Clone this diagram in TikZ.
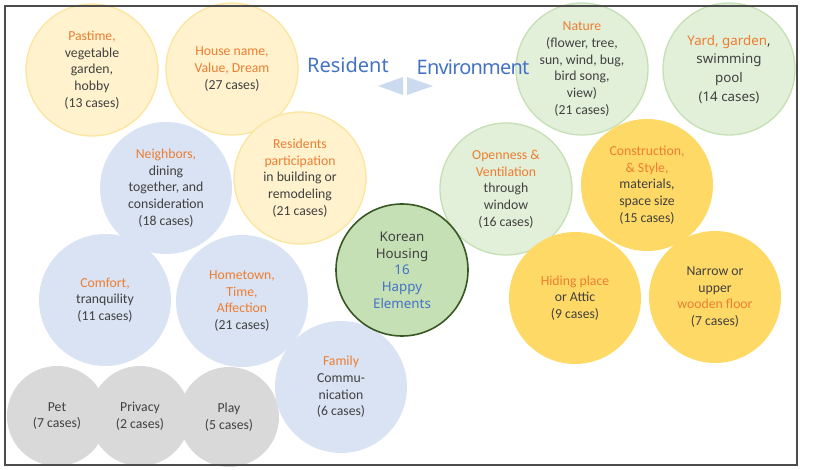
\documentclass[tikz,border=0pt]{standalone}
\usepackage{fontspec}
\setmainfont{Carlito}
\newfontfamily\notosans{Noto Sans}
\definecolor{accent}{HTML}{ED7D31}
\definecolor{ink}{HTML}{404040}
\definecolor{titleblue}{HTML}{4472C4}
\definecolor{paleyel}{HTML}{FFF2CC}
\definecolor{yelline}{HTML}{FBE5A0}
\definecolor{paleblue}{HTML}{DAE3F3}
\definecolor{palegray}{HTML}{D9D9D9}
\definecolor{palegreen}{HTML}{E2F0D9}
\definecolor{greenline}{HTML}{C5E0B4}
\definecolor{gold}{HTML}{FFD966}
\definecolor{hubgreen}{HTML}{C5E0B4}
\definecolor{hubline}{HTML}{385723}
\definecolor{arrowblue}{HTML}{CCDAF0}
\newcommand\hl[1]{\textcolor{accent}{#1}}
\begin{document}
\begin{tikzpicture}[x=0.75pt,y=-0.75pt,
  bubble/.style={circle,minimum size=99pt,inner sep=0pt,align=center,text=ink,
    font=\fontsize{10.3}{12.5}\selectfont},
  yelbub/.style={bubble,fill=paleyel,draw=yelline,line width=1pt},
  bluebub/.style={bubble,fill=paleblue},
  graybub/.style={bubble,fill=palegray,minimum size=75pt},
  greenbub/.style={bubble,fill=palegreen,draw=greenline,line width=1pt},
  goldbub/.style={bubble,fill=gold},
  hub/.style={bubble,fill=hubgreen,draw=hubline,line width=1.2pt,
    font=\notosans\fontsize{10}{12.5}\selectfont},
  heading/.style={text=titleblue,font=\notosans\fontsize{15}{18}\selectfont,inner sep=0pt}]
\useasboundingbox (0,0) rectangle (813,470);
% resident side
\node[yelbub] (pastime) at (92,70) {\hl{Pastime,}\\vegetable\\garden,\\hobby\\(13 cases)};
\node[yelbub] (housename) at (232,69) {\hl{House name,}\\\hl{Value, Dream}\\(27 cases)};
\node[bluebub] (neighbors) at (166,188) {\hl{Neighbors,}\\dining\\together, and\\consideration\\(18 cases)};
\node[yelbub] (participation) at (300,178) {\hl{Residents}\\\hl{participation}\\in building or\\remodeling\\(21 cases)};
\node[bluebub] (comfort) at (105,300) {\hl{Comfort,}\\tranquility\\(11 cases)};
\node[bluebub] (hometown) at (242,301) {\hl{Hometown,}\\\hl{Time,}\\\hl{Affection}\\(21 cases)};
\node[bluebub] (family) at (341,387) {\hl{Family}\\Commu-\\nication\\(6 cases)};
\node[graybub] (pet) at (57,416) {Pet\\(7 cases)};
\node[graybub] (privacy) at (140,416) {Privacy\\(2 cases)};
\node[graybub] (play) at (229,417) {Play\\(5 cases)};
% environment side
\node[greenbub] (nature) at (582,69) {\hl{Nature}\\(flower, tree,\\sun, wind, bug,\\bird song,\\view)\\(21 cases)};
\node[greenbub,font=\notosans\fontsize{10}{14}\selectfont] (yard) at (729,69) {\hl{Yard, garden},\\swimming\\pool\\(14 cases)};
\node[greenbub] (openness) at (506,189) {\hl{Openness \&}\\\hl{Ventilation}\\through\\window\\(16 cases)};
\node[goldbub] (construction) at (647,185) {\hl{Construction,}\\\hl{\& Style,}\\materials,\\space size\\(15 cases)};
\node[goldbub] (hiding) at (575,298) {\hl{Hiding place}\\or Attic\\(9 cases)};
\node[goldbub] (narrow) at (715,297) {Narrow or\\upper\\\hl{wooden floor}\\(7 cases)};
% centre
\node[hub] (korean) at (402,270) {Korean\\Housing\\\textcolor{titleblue}{16}\\\textcolor{titleblue}{Happy}\\\textcolor{titleblue}{Elements}};
% headings and double arrow
\node[heading] (resident) at (348,65) {Resident};
\node[heading] (environment) at (473,67) {\addfontfeature{LetterSpace=-4}Environment};
\fill[arrowblue] (378,86) -- (403,77) -- (403,95) -- cycle;
\fill[arrowblue] (433,86) -- (407,77) -- (407,95) -- cycle;
% frame
\draw[line width=1.2pt,black!70] (5,6) rectangle (797,465);
\end{tikzpicture}
\end{document}
